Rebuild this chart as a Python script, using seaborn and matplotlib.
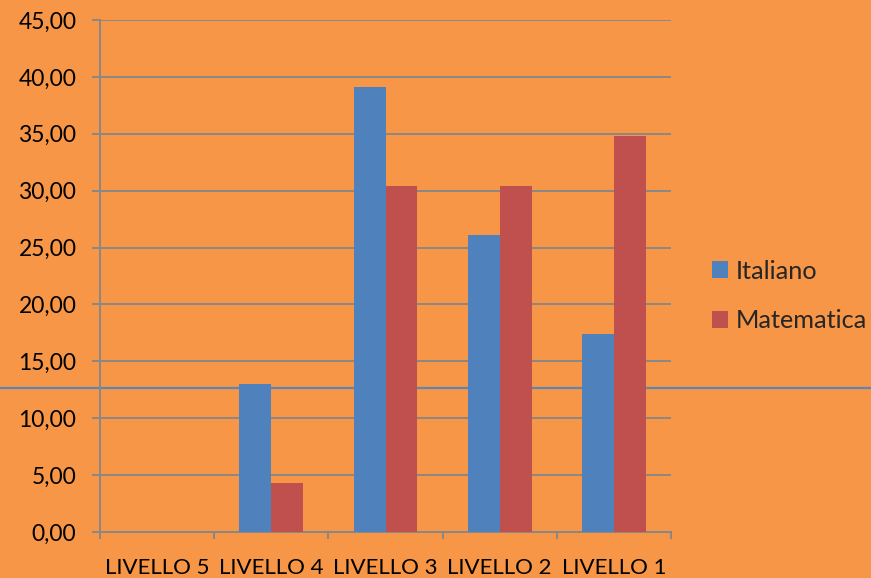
import matplotlib.pyplot as plt
import pandas as pd
import seaborn as sns
from matplotlib.lines import Line2D
from matplotlib.ticker import FuncFormatter, MultipleLocator, FixedLocator

livelli = ["LIVELLO 5", "LIVELLO 4", "LIVELLO 3", "LIVELLO 2", "LIVELLO 1"]
italiano = [0.00, 13.04, 39.13, 26.09, 17.39]
matematica = [0.00, 4.35, 30.43, 30.43, 34.78]

bg = "#F79646"
blue = "#4F81BD"
red = "#C0504D"
grey = "#878787"

data = pd.DataFrame({
    "Livello": livelli * 2,
    "Valore": italiano + matematica,
    "Materia": ["Italiano"] * len(livelli) + ["Matematica"] * len(livelli),
})

sns.set_style("white")
plt.rcParams["font.family"] = ["Lato", "DejaVu Sans"]

fig = plt.figure(figsize=(8.71, 5.78), dpi=100, facecolor=bg)
ax = fig.add_axes([100 / 871, 1 - 532 / 578, 571 / 871, 512 / 578])
ax.set_facecolor("none")

# the stray line crossing the whole picture, behind the bars
fig.add_artist(Line2D([0, 1], [1 - 388 / 578, 1 - 388 / 578], transform=fig.transFigure,
                      color="#5E86B4", lw=1.6, zorder=-1))

sns.barplot(data=data, x="Livello", y="Valore", hue="Materia", order=livelli,
            palette=[blue, red], width=0.56, gap=0, saturation=1, ax=ax, zorder=3,
            linewidth=0, edgecolor="none")

ax.set_xlim(-0.5, 4.5)
ax.set_ylim(0, 45)
ax.yaxis.set_major_locator(MultipleLocator(5))
ax.yaxis.set_major_formatter(FuncFormatter(lambda v, p: f"{v:.2f}".replace(".", ",")))
ax.grid(axis="y", color=grey, lw=1.4, zorder=0)
ax.set_axisbelow(True)

for s in ["top", "right"]:
    ax.spines[s].set_visible(False)
for s in ["left", "bottom"]:
    ax.spines[s].set_color(grey)
    ax.spines[s].set_linewidth(1.4)

ax.tick_params(axis="y", direction="out", length=6, width=1.4, color=grey,
               pad=11, labelsize=16.5, labelcolor="black", left=True)
ax.tick_params(axis="x", which="major", length=0, pad=18.5, labelsize=16, labelcolor="black")
ax.xaxis.set_minor_locator(FixedLocator([-0.5, 0.5, 1.5, 2.5, 3.5, 4.5]))
ax.tick_params(axis="x", which="minor", direction="out", length=5, width=1.4, color=grey, bottom=True)

ax.set_xlabel("")
ax.set_ylabel("")

leg = ax.legend(loc="center left", bbox_to_anchor=(712 / 871, 1 - 296 / 578),
                bbox_transform=fig.transFigure, frameon=False, fontsize=18.2,
                handlelength=0.65, handleheight=0.65, handletextpad=0.3,
                labelspacing=1.05, borderpad=0, borderaxespad=0)

fig.savefig("out.png", dpi=100, facecolor=bg)
